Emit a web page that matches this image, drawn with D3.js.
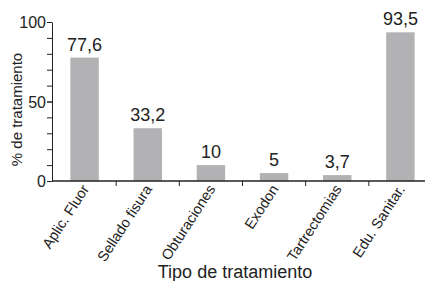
<!DOCTYPE html>
<html>
<head>
<meta charset="utf-8">
<script src="https://cdn.jsdelivr.net/npm/d3@7"></script>
<style>
  body { margin: 0; background: #fff; }
  text { font-family: "Liberation Sans", Arial, sans-serif; fill: #222; }
</style>
</head>
<body>
<svg id="chart"></svg>
<script>
// Chart data
const categories = ["Aplic. Fluor", "Sellado fisura", "Obturaciones", "Exodon", "Tartrectomias", "Edu. Sanitar."];
const values = [77.6, 33.2, 10, 5, 3.7, 93.5];
const valueLabels = ["77,6", "33,2", "10", "5", "3,7", "93,5"];
const yTicks = [0, 50, 100];
const yMinorTicks = [0, 10, 20, 30, 40, 50, 60, 70, 80, 90, 100];

const W = 425, H = 281;
const margin = {top: 22, left: 52};
const y0 = 181;

const svg = d3.select("#chart")
    .attr("width", W)
    .attr("height", H);

// Scales
const x = d3.scaleBand()
    .domain(categories)
    .range([53, 432])
    .paddingInner(0.55)
    .paddingOuter(0.275);

const y = d3.scaleLinear()
    .domain([0, 100])
    .range([y0, margin.top]);

// Bars
svg.selectAll(".bar")
  .data(values)
  .enter()
  .append("rect")
    .attr("class", "bar")
    .attr("x", (d, i) => x(categories[i]))
    .attr("y", d => y(d))
    .attr("width", x.bandwidth())
    .attr("height", d => y(0) - y(d))
    .attr("fill", "#b2b2b4");

// Value labels
svg.selectAll(".val")
  .data(values)
  .enter()
  .append("text")
    .attr("class", "val")
    .attr("x", (d, i) => x(categories[i]) + x.bandwidth() / 2)
    .attr("y", d => y(d) - 7)
    .attr("text-anchor", "middle")
    .style("font-size", "18px")
    .text((d, i) => valueLabels[i]);

// Y axis: minor ticks then labelled ticks
svg.append("g")
    .attr("transform", `translate(${margin.left},0)`)
    .call(d3.axisLeft(y).tickValues(yMinorTicks).tickSize(5).tickFormat(""))
    .call(g => g.select(".domain").remove())
    .call(g => g.selectAll("line").attr("stroke", "#222"));

svg.append("g")
    .attr("transform", `translate(${margin.left},0)`)
    .call(d3.axisLeft(y).tickValues(yTicks).tickSize(5).tickSizeOuter(0).tickPadding(1))
    .call(g => g.select(".domain").attr("stroke", "#222"))
    .call(g => g.selectAll("line").attr("stroke", "#222"))
    .call(g => g.selectAll("text").style("font-size", "16px").attr("dy", "0.36em"));

// X axis: line across, ticks at category boundaries
const xAxis = svg.append("g");
xAxis.append("line")
    .attr("x1", margin.left)
    .attr("x2", W)
    .attr("y1", y0)
    .attr("y2", y0)
    .attr("stroke", "#222")
    .attr("stroke-width", 1.3);

const step = x.step();
xAxis.selectAll(".sep")
  .data(categories.slice(1))
  .enter()
  .append("line")
    .attr("class", "sep")
    .attr("x1", d => x(d) - (step - x.bandwidth()) / 2)
    .attr("x2", d => x(d) - (step - x.bandwidth()) / 2)
    .attr("y1", y0)
    .attr("y2", y0 + 5)
    .attr("stroke", "#222");

// X tick labels, rotated
xAxis.selectAll(".xl")
  .data(categories)
  .enter()
  .append("text")
    .attr("class", "xl")
    .attr("text-anchor", "end")
    .attr("transform", d => `translate(${x(d) + x.bandwidth() / 2 + 5},${y0 + 8}) rotate(-57)`)
    .style("font-size", "14.5px")
    .text(d => d);

// Axis titles
svg.append("text")
    .attr("text-anchor", "middle")
    .attr("transform", `translate(22,${(y0 + margin.top) / 2 + 8}) rotate(-90)`)
    .style("font-size", "15px")
    .text("% de tratamiento");

svg.append("text")
    .attr("x", 235)
    .attr("y", 278)
    .attr("text-anchor", "middle")
    .style("font-size", "18px")
    .text("Tipo de tratamiento");
</script>
</body>
</html>
